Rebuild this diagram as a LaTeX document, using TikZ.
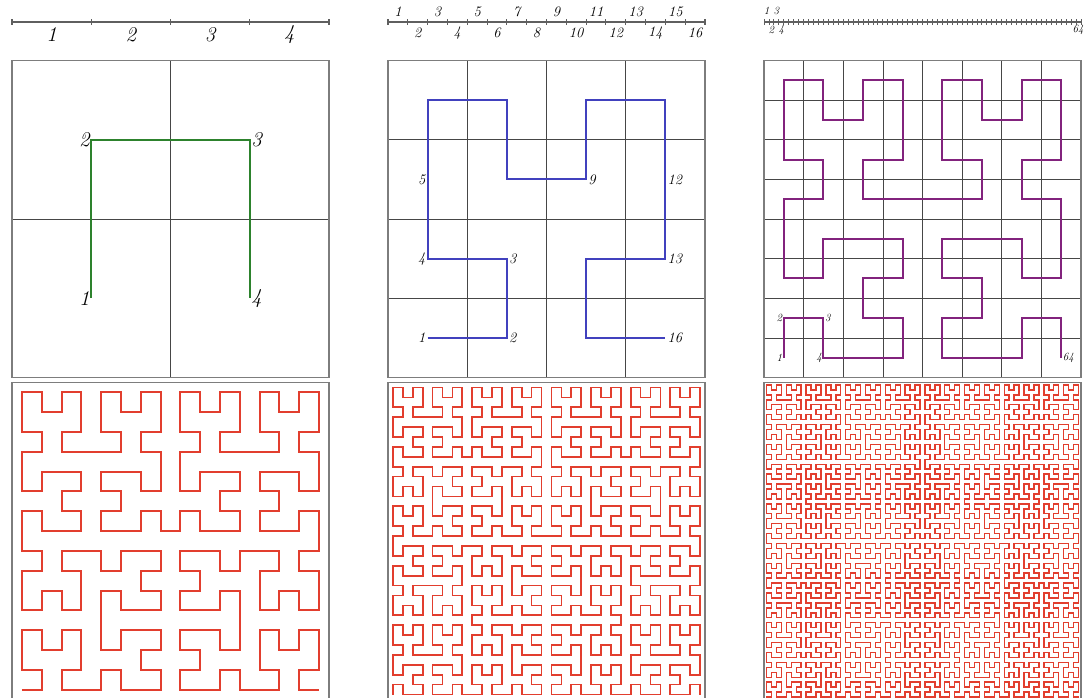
\documentclass[tikz,border=0pt]{standalone}
\usetikzlibrary{lindenmayersystems}
\pgfdeclarelindenmayersystem{Hilbert curve}{
  \rule{L -> +RF-LFL-FR+}
  \rule{R -> -LF+RFR+FL-}
}
\definecolor{cgreen}{RGB}{45,130,45}
\definecolor{cblue}{RGB}{65,65,190}
\definecolor{cpurple}{RGB}{130,35,125}
\definecolor{cred}{RGB}{226,62,46}
\definecolor{gridc}{RGB}{70,70,70}
\definecolor{framec}{RGB}{125,125,125}
\definecolor{rulerc}{RGB}{95,95,95}
\begin{document}
\begin{tikzpicture}[x=1pt,y=1pt,
  frame/.style={draw=framec,line width=1.1pt},
  gridline/.style={draw=gridc,line width=0.7pt},
  rulerline/.style={draw=rulerc,line width=1.1pt},
  bigl/.style={font=\fontsize{21}{25}\selectfont\itshape,inner sep=1.5pt},
  medl/.style={font=\fontsize{14.5}{17}\selectfont\itshape,inner sep=2pt},
  smll/.style={font=\fontsize{11}{13}\selectfont\itshape,inner sep=1.5pt},
  curve/.style={line width=2pt,line join=miter}]
\useasboundingbox (0,0) rectangle (1086,698);
\clip (0,0) rectangle (1086,698);
\fill[white] (0,0) rectangle (1086,698);

% ---------------- rulers ----------------
% left
\draw[rulerline] (12,676) -- (329,676);
\foreach \i in {0,...,4} \draw[rulerline] (12+\i*79.25,673) -- ++(0,6);
\foreach \i in {1,...,4} \node[bigl] (rl\i) at (12+\i*79.25-39.625,663) {\i};
% middle
\draw[rulerline] (388,676) -- (705,676);
\foreach \i in {0,...,16} \draw[rulerline] (388+\i*19.8125,673) -- ++(0,6);
\foreach \i in {1,3,...,15} \node[medl] (rm\i) at (388+\i*19.8125-9.906,686) {\i};
\foreach \i in {2,4,...,16} \node[medl] (rm\i) at (388+\i*19.8125-9.906,665) {\i};
% right
\draw[rulerline] (764,676) -- (1081,676);
\foreach \i in {0,...,64} \draw[line width=0.9pt,draw=rulerc] (764+\i*4.953,673) -- ++(0,6);
\node[smll] (rr1) at (766.5,687) {1};
\node[smll] (rr3) at (776.4,687) {3};
\node[smll] (rr2) at (771.4,668) {2};
\node[smll] (rr4) at (781.3,668) {4};
\node[smll] (rr64) at (1078,668) {64};

% ---------------- top row squares ----------------
% left: 2x2
\begin{scope}[shift={(12,320.5)}]
  \foreach \k in {1} {
    \draw[gridline] (\k*158.5,0) -- (\k*158.5,317);
    \draw[gridline] (0,\k*158.5) -- (317,\k*158.5);
  }
  \draw[frame] (0,0) rectangle (317,317);
  \begin{scope}[shift={(79.25,79.25)}]
  \draw[curve,cgreen,lindenmayer system={Hilbert curve, axiom=L, order=1, step=158.5pt, angle=90}]
     (0,0) lindenmayer system;
  \end{scope}
  \node[bigl,anchor=east] (g1) at (79.25,79.25) {1};
  \node[bigl,anchor=east] (g2) at (79.25,237.75) {2};
  \node[bigl,anchor=west] (g3) at (237.75,237.75) {3};
  \node[bigl,anchor=west] (g4) at (237.75,79.25) {4};
\end{scope}
% middle: 4x4
\begin{scope}[shift={(388,320.5)}]
  \foreach \k in {1,2,3} {
    \draw[gridline] (\k*79.25,0) -- (\k*79.25,317);
    \draw[gridline] (0,\k*79.25) -- (317,\k*79.25);
  }
  \draw[frame] (0,0) rectangle (317,317);
  \begin{scope}[shift={(39.625,39.625)}]
  \draw[curve,cblue,lindenmayer system={Hilbert curve, axiom=L, order=2, step=79.25pt, angle=90}]
     (0,0) lindenmayer system;
  \end{scope}
  \node[medl,anchor=east] (b1) at (39.625,39.625) {1};
  \node[medl,anchor=west] (b2) at (118.875,39.625) {2};
  \node[medl,anchor=west] (b3) at (118.875,118.875) {3};
  \node[medl,anchor=east] (b4) at (39.625,118.875) {4};
  \node[medl,anchor=east] (b5) at (39.625,198.125) {5};
  \node[medl,anchor=west] (b9) at (198.125,198.125) {9};
  \node[medl,anchor=west] (b12) at (277.375,198.125) {12};
  \node[medl,anchor=west] (b13) at (277.375,118.875) {13};
  \node[medl,anchor=west] (b16) at (277.375,39.625) {16};
\end{scope}
% right: 8x8
\begin{scope}[shift={(764,320.5)}]
  \foreach \k in {1,...,7} {
    \draw[gridline] (\k*39.625,0) -- (\k*39.625,317);
    \draw[gridline] (0,\k*39.625) -- (317,\k*39.625);
  }
  \draw[frame] (0,0) rectangle (317,317);
  \begin{scope}[shift={(19.8125,19.8125)}]
  \draw[curve,cpurple,lindenmayer system={Hilbert curve, axiom=L, order=3, step=39.625pt, angle=90}]
     (0,0) lindenmayer system;
  \end{scope}
  \node[smll,anchor=east] (p1) at (19.8125,19.8125) {1};
  \node[smll,anchor=east] (p2) at (19.8125,59.4375) {2};
  \node[smll,anchor=west] (p3) at (59.4375,59.4375) {3};
  \node[smll,anchor=east] (p4) at (59.4375,19.8125) {4};
  \node[smll,anchor=west] (p64) at (297.1875,19.8125) {64};
\end{scope}

% ---------------- bottom row ----------------
\begin{scope}[shift={(12,-1.5)}]
  \draw[frame] (0,0) rectangle (317,317);
  \begin{scope}[shift={(9.906,9.906)}]
  \draw[line width=2pt,cred,lindenmayer system={Hilbert curve, axiom=L, order=4, step=19.8125pt, angle=90}]
     (0,0) lindenmayer system;
  \end{scope}
\end{scope}
\begin{scope}[shift={(388,-1.5)}]
  \draw[frame] (0,0) rectangle (317,317);
  \begin{scope}[shift={(4.953,4.953)}]
  \draw[line width=1.7pt,cred,lindenmayer system={Hilbert curve, axiom=L, order=5, step=9.906pt, angle=90}]
     (0,0) lindenmayer system;
  \end{scope}
\end{scope}
\begin{scope}[shift={(764,-1.5)}]
  \draw[frame] (0,0) rectangle (317,317);
  \begin{scope}[shift={(2.4766,2.4766)}]
  \draw[line width=1.4pt,cred,lindenmayer system={Hilbert curve, axiom=L, order=6, step=4.953pt, angle=90}]
     (0,0) lindenmayer system;
  \end{scope}
\end{scope}
\end{tikzpicture}
\end{document}
